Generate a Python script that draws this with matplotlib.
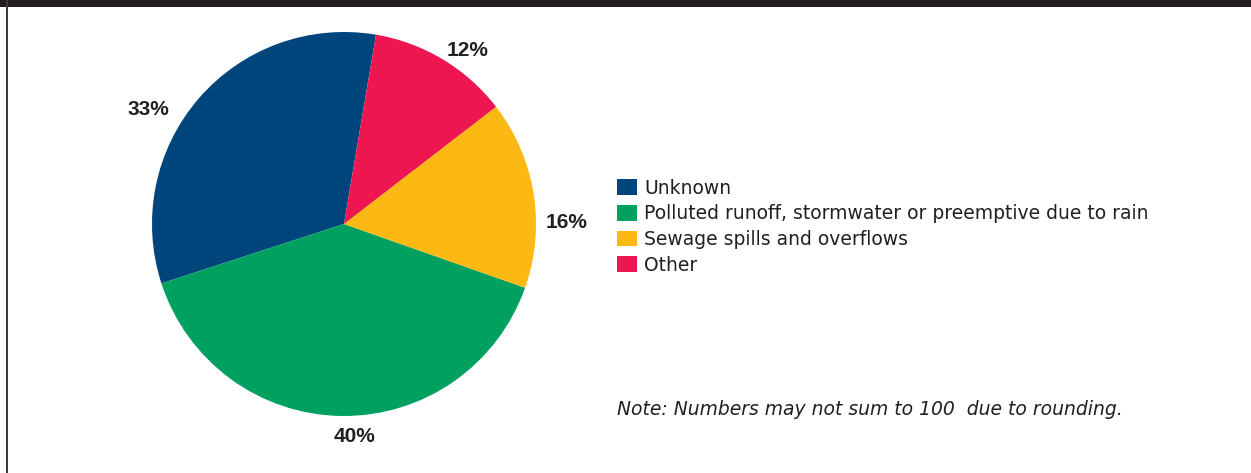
import matplotlib
matplotlib.use("Agg")
import matplotlib.pyplot as plt
from matplotlib.patches import Rectangle
import numpy as np

categories = ["Unknown", "Polluted runoff, stormwater or preemptive due to rain",
              "Sewage spills and overflows", "Other"]
values = [33, 40, 16, 12]
pct_labels = ["33%", "40%", "16%", "12%"]
colors = ["#00457C", "#00A160", "#FDB913", "#ED1651"]
note = "Note: Numbers may not sum to 100  due to rounding."

plt.rcParams['font.family'] = ['DejaVu Sans']
W, H = 1251, 473
fig = plt.figure(figsize=(W / 100, H / 100), dpi=100)
fig.patch.set_facecolor("white")

# frame decorations
fig.patches.append(Rectangle((0, 1 - 7 / H), 1, 7 / H, transform=fig.transFigure,
                             facecolor="#231F20", edgecolor="none"))
fig.patches.append(Rectangle((6 / W, 0), 2 / W, 1, transform=fig.transFigure,
                             facecolor="#3a3a3a", edgecolor="none"))

cx, cy, r = 344, 224, 192
ax = fig.add_axes([(cx - r) / W, (H - cy - r) / H, 2 * r / W, 2 * r / H])
wedges, _ = ax.pie(values, colors=colors, startangle=80.4, counterclock=True,
                   wedgeprops=dict(linewidth=0))
ax.set_xlim(-1, 1)
ax.set_ylim(-1, 1)
ax.set_aspect("equal")
ax.axis("off")

# label placement (angle in degrees, distance in radii)
label_pos = [(149.6, 1.18), (-87.3, 1.11), (0.5, 1.16), (54.5, 1.11)]
for lab, (ang, d) in zip(pct_labels, label_pos):
    a = np.deg2rad(ang)
    ax.text(d * np.cos(a), d * np.sin(a), lab, ha="center", va="center",
            fontsize=15, fontweight="bold", color="#231F20", clip_on=False,
            family="Liberation Sans")

fig.legend(wedges, categories, loc="upper left",
           bbox_to_anchor=(609 / W, 1 - 171 / H), frameon=False,
           fontsize=13.5, handlelength=1.07, handleheight=0.92,
           handletextpad=0.42, labelspacing=0.36, borderaxespad=0,
           labelcolor="#231F20")

fig.text(617 / W, 1 - 409 / H, note, ha="left", va="center", fontsize=13.5,
         fontstyle="italic", color="#231F20")

fig.savefig("out.png", dpi=100)
